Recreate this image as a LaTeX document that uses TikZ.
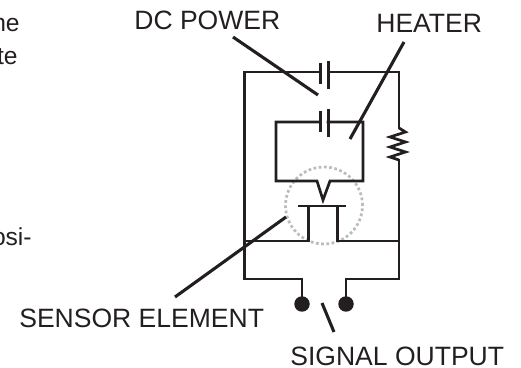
\documentclass[tikz,border=0pt]{standalone}
\usepackage{fontspec}
\setmainfont{Liberation Sans}
\definecolor{inkBlack}{RGB}{35,31,32}
\definecolor{dotGray}{RGB}{188,188,188}
\tikzset{
  wire/.style={draw=inkBlack,line width=0.054cm,line cap=rect},
  leader/.style={draw=inkBlack,line width=0.062cm},
  plate/.style={draw=inkBlack,line width=0.06cm},
  terminal/.style={circle,fill=inkBlack,inner sep=0pt,minimum size=0.31cm},
  callout/.style={font=\fontsize{15.1}{18}\selectfont,text=inkBlack,inner sep=0pt,anchor=base west},
  cropped/.style={font=\fontsize{14}{16}\selectfont,text=inkBlack,inner sep=0pt,anchor=base east}
}
\begin{document}
\begin{tikzpicture}[x=0.02cm,y=-0.02cm]
  \useasboundingbox (0,0) rectangle (521,368);

  % Cropped text
  \node[cropped] (txtA) at (20,32) {ne};
  \node[cropped] (txtB) at (18,65) {te};
  \node[cropped] (txtC) at (32,245) {osi-};

  % Labels
  \node[callout] (dcpower) at (134,30) {DC POWER};
  \node[callout] (heater) at (376,33) {HEATER};
  \node[callout] (sensor) at (19,327) {SENSOR ELEMENT};
  \node[callout] (signal) at (290,365) {SIGNAL OUTPUT};

  % Sensing circle
  \node[circle,draw=dotGray,line width=0.055cm,dash pattern=on 0.055cm off 0.05cm,minimum size=1.54cm,inner sep=0pt] (sense) at (324,205.5) {};

  % Outer loop
  \coordinate (capAL) at (320,72);
  \coordinate (capAR) at (328,72);
  \coordinate (tl) at (244.5,72);
  \coordinate (tr) at (399,72);
  \coordinate (ml) at (244.5,241);
  \coordinate (mr) at (399,241);
  \coordinate (bl) at (244.5,279);
  \coordinate (br) at (399,279);
  \coordinate (resT) at (399,128);
  \coordinate (resB) at (399,160);
  \draw[wire] (capAL) -- (tl) -- (bl) -- (302,279) -- (302,304);
  \draw[wire] (capAR) -- (tr) -- (resT);
  \draw[wire,line cap=butt] (resT) -- (405.5,132) -- (390,137) -- (405.5,142) -- (390,147) -- (405.5,152) -- (390,157) -- (resB);
  \draw[wire] (resB) -- (br) -- (346,279) -- (346,304);
  \draw[plate] (320,63) -- (320,84);
  \draw[plate] (328,61) -- (328,89);

  % Inner loop
  \draw[wire] (320,122) -- (276,122) -- (276,181) -- (317,181) -- (323,200) -- (330,181) -- (363,181) -- (363,122) -- (328,122);
  \draw[plate] (320,111) -- (320,132);
  \draw[plate] (328,109) -- (328,137);

  % Element
  \draw[plate] (298,206) -- (346,206);
  \draw[wire] (ml) -- (308.5,241) -- (308.5,206);
  \draw[wire] (mr) -- (337.5,241) -- (337.5,206);

  % Terminals
  \node[terminal] (t1) at (302,304) {};
  \node[terminal] (t2) at (346,304) {};

  % Leaders
  \draw[leader] (233,37) -- (318,95);
  \draw[leader] (350,139) -- (404,42);
  \draw[leader] (286,217) -- (175,297);
  \draw[leader] (322,303) -- (334,332);
\end{tikzpicture}
\end{document}
